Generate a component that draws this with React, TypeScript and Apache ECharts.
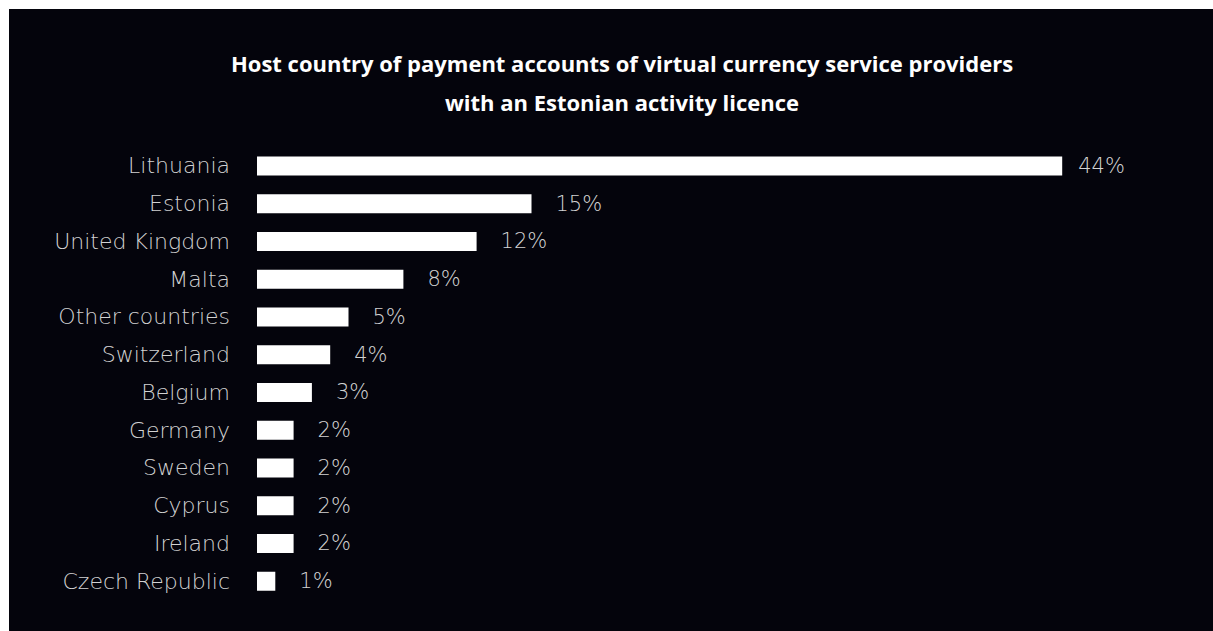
import React, { useEffect, useRef } from "react";
import * as echarts from "echarts";

const titleLines = [
  "Host country of payment accounts of virtual currency service providers",
  "with an Estonian activity licence",
];
const countries = [
  "Lithuania",
  "Estonia",
  "United Kingdom",
  "Malta",
  "Other countries",
  "Switzerland",
  "Belgium",
  "Germany",
  "Sweden",
  "Cyprus",
  "Ireland",
  "Czech Republic",
];
const shares = [44, 15, 12, 8, 5, 4, 3, 2, 2, 2, 2, 1];

export default function App() {
  const ref = useRef<HTMLDivElement>(null);
  useEffect(() => {
    document.body.style.overflow = "hidden";
    const chart = echarts.init(ref.current!, null, { renderer: "svg", width: 1204, height: 622 });
    const font = "'DejaVu Sans', sans-serif";
    chart.setOption({
      animation: false,
      backgroundColor: "#04040c",
      title: {
        text: titleLines.join("\n"),
        left: 608,
        top: 29,
        textAlign: "center",
        textStyle: {
          color: "#ffffff",
          fontFamily: "'Open Sans', sans-serif",
          fontWeight: 700,
          fontSize: 22,
          lineHeight: 39,
        },
      },
      grid: { left: 248, top: 138, width: 915, height: 453 },
      xAxis: {
        type: "value",
        min: 0,
        max: 50,
        show: false,
      },
      yAxis: {
        type: "category",
        inverse: true,
        data: countries,
        axisLine: { show: false },
        axisTick: { show: false },
        axisLabel: {
          color: "#d2d2d2",
          fontFamily: font,
          fontWeight: 200,
          fontSize: 22,
          margin: 27,
        },
      },
      series: [
        {
          type: "bar",
          barWidth: 19,
          data: shares.map((v, i) => ({
            value: v,
            label: { distance: i === 0 ? 16 : 24 },
          })),
          itemStyle: { color: "#ffffff" },
          label: {
            show: true,
            position: "right",
            formatter: "{c}%",
            color: "#d2d2d2",
            fontFamily: font,
            fontWeight: 200,
            fontSize: 21,
          },
        },
      ],
    });
    return () => chart.dispose();
  }, []);
  return (
    <div
      ref={ref}
      style={{ position: "fixed", left: 9, top: 9, width: 1204, height: 622 }}
    />
  );
}
